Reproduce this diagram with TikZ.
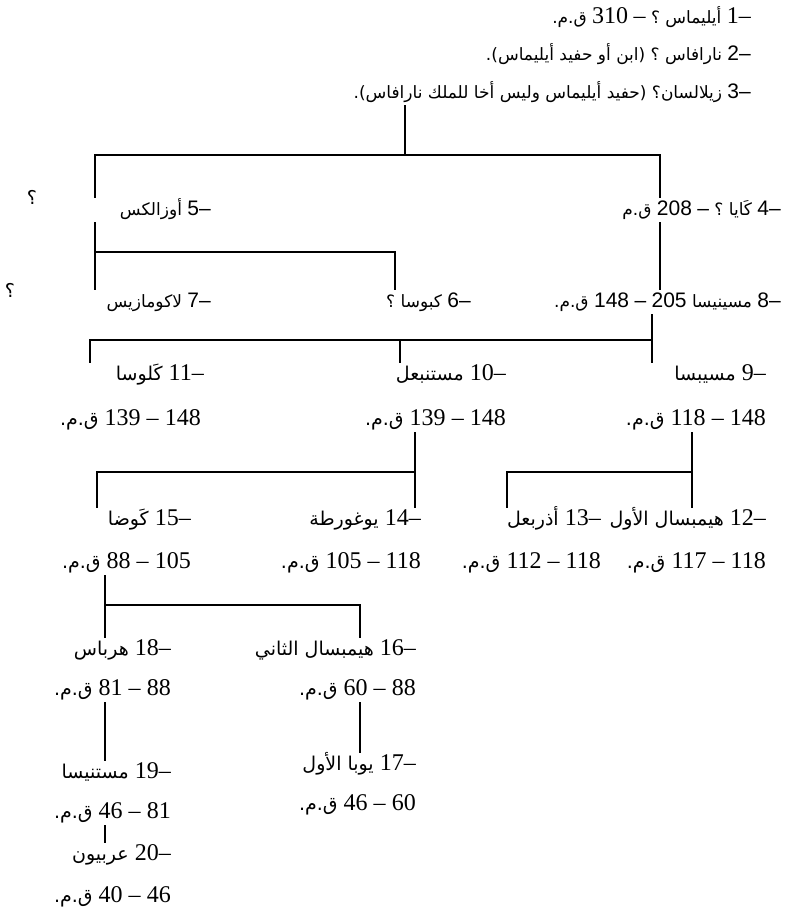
\documentclass[tikz,border=0pt]{standalone}
\usepackage{fontspec}
\TeXXeTstate=1
\newfontfamily\arabicfont[Script=Arabic]{DejaVu Sans}
\newfontfamily\numserif{Liberation Serif}
\newfontfamily\numsans{Liberation Sans}
% one right-to-left line of Arabic (head lines are set a little smaller)
\newcommand\rtl[1]{{\arabicfont\fontsize{19}{22}\selectfont\beginR #1\endR}}
\newcommand\rtlhead[1]{{\arabicfont\fontsize{17}{20}\selectfont\beginR #1\endR}}
% serif and sans figures
\newcommand\ns[1]{{\numserif\fontsize{24}{26}\selectfont #1}}
\newcommand\nss[1]{{\numsans\fontsize{21}{24}\selectfont #1}}

\begin{document}
\begin{tikzpicture}[x=1pt,y=-1pt,
  txt/.style={anchor=east,inner sep=1pt,text height=17pt,text depth=6pt},
  qmark/.style={inner sep=0pt},
  link/.style={line width=1.8pt,line cap=rect}]
\useasboundingbox[fill=white] (0,0) rectangle (795,917);

% ---- ancestors
\node[txt] (l1) at (752,18) {\rtlhead{\ns{1–} أيليماس ؟ \ns{–} \ns{310} ق.م.}};
\node[txt] (l2) at (752,55) {\rtlhead{\nss{2–} نارافاس ؟ (ابن أو حفيد أيليماس).}};
\node[txt] (l3) at (752,93) {\rtlhead{\nss{3–} زيلالسان؟ (حفيد أيليماس وليس أخا للملك نارافاس).}};

% ---- second generation
\node[txt] (n4) at (782,210) {\rtlhead{\nss{4–} كَايا ؟ \nss{–} \nss{208} ق.م}};
\node[txt] (n5) at (212,210) {\rtlhead{\nss{5–} أوزالكس}};
\node[qmark] (q5) at (32,197) {\rtl{؟}};

% ---- third generation
\node[txt] (n7) at (212,302) {\rtlhead{\nss{7–} لاكومازيس}};
\node[qmark] (q7) at (10,290) {\rtl{؟}};
\node[txt] (n6) at (472,302) {\rtlhead{\nss{6–} كبوسا ؟}};
\node[txt] (n8) at (782,302) {\rtlhead{\nss{8–} مسينيسا \nss{205} \nss{–} \nss{148} ق.م.}};

% ---- sons of Masinissa
\node[txt] (n11) at (205,375) {\rtl{\ns{11–} كَلوسا}};
\node[txt] (d11) at (202,420) {\rtl{\ns{148} \ns{–} \ns{139} ق.م.}};
\node[txt] (n10) at (507,375) {\rtl{\ns{10–} مستنبعل}};
\node[txt] (d10) at (507,420) {\rtl{\ns{148} \ns{–} \ns{139} ق.م.}};
\node[txt] (n9) at (767,375) {\rtl{\ns{9–} مسيبسا}};
\node[txt] (d9) at (767,420) {\rtl{\ns{148} \ns{–} \ns{118} ق.م.}};

% ---- next generation
\node[txt] (n15) at (192,520) {\rtl{\ns{15–} كَوضا}};
\node[txt] (d15) at (192,563) {\rtl{\ns{105} \ns{–} \ns{88} ق.م.}};
\node[txt] (n14) at (422,520) {\rtl{\ns{14–} يوغورطة}};
\node[txt] (d14) at (422,563) {\rtl{\ns{118} \ns{–} \ns{105} ق.م.}};
\node[txt] (n13) at (602,520) {\rtl{\ns{13–} أذربعل}};
\node[txt] (d13) at (602,563) {\rtl{\ns{118} \ns{–} \ns{112} ق.م.}};
\node[txt] (n12) at (767,520) {\rtl{\ns{12–} هيمبسال الأول}};
\node[txt] (d12) at (767,563) {\rtl{\ns{118} \ns{–} \ns{117} ق.م.}};

% ---- sons of Gauda
\node[txt] (n18) at (172,650) {\rtl{\ns{18–} هرباس}};
\node[txt] (d18) at (172,690) {\rtl{\ns{88} \ns{–} \ns{81} ق.م.}};
\node[txt] (n16) at (417,650) {\rtl{\ns{16–} هيمبسال الثاني}};
\node[txt] (d16) at (417,690) {\rtl{\ns{88} \ns{–} \ns{60} ق.م.}};
\node[txt] (n17) at (417,765) {\rtl{\ns{17–} يوبا الأول}};
\node[txt] (d17) at (417,805) {\rtl{\ns{60} \ns{–} \ns{46} ق.م.}};
\node[txt] (n19) at (172,773) {\rtl{\ns{19–} مستنيسا}};
\node[txt] (d19) at (172,813) {\rtl{\ns{81} \ns{–} \ns{46} ق.م.}};
\node[txt] (n20) at (172,855) {\rtl{\ns{20–} عربيون}};
\node[txt] (d20) at (172,897) {\rtl{\ns{46} \ns{–} \ns{40} ق.م.}};

% ---- bracket corners
\coordinate (aM) at (405,155); \coordinate (aL) at (95,155); \coordinate (aR) at (660,155);
\coordinate (bL) at (95,252);  \coordinate (bR) at (395,252);
\coordinate (cL) at (90,340);  \coordinate (cM) at (400,340); \coordinate (cR) at (652,340);
\coordinate (dL) at (97,472);  \coordinate (dR) at (415,472);
\coordinate (eL) at (507,472); \coordinate (eR) at (692,472);
\coordinate (fL) at (105,605); \coordinate (fR) at (360,605);

% ---- connectors
\draw[link] (l3.south -| aM) -- (aM);
\draw[link] (n5.north -| aL) -- (aL) -- (aR) -- (n4.north -| aR);
\draw[link] (n5.south -| bL) -- (n7.north -| bL);
\draw[link] (bL) -- (bR) -- (n6.north -| bR);
\draw[link] (n4.south -| aR) -- (n8.north -| aR);
\draw[link] (n8.south -| cR) -- (n9.north -| cR);
\draw[link] (cR) -- (cL) -- (n11.north -| cL);
\draw[link] (cM) -- (n10.north -| cM);
\draw[link] (d10.south -| dR) -- (n14.north -| dR);
\draw[link] (dR) -- (dL) -- (n15.north -| dL);
\draw[link] (d9.south -| eR) -- (n12.north -| eR);
\draw[link] (eR) -- (eL) -- (n13.north -| eL);
\draw[link] (d15.south -| fL) -- (n18.north -| fL);
\draw[link] (fL) -- (fR) -- (n16.north -| fR);
\draw[link] (d16.south -| fR) -- (n17.north -| fR);
\draw[link] (d18.south -| fL) -- (n19.north -| fL);
\draw[link] (d19.south -| fL) -- (n20.north -| fL);
\end{tikzpicture}
\end{document}
